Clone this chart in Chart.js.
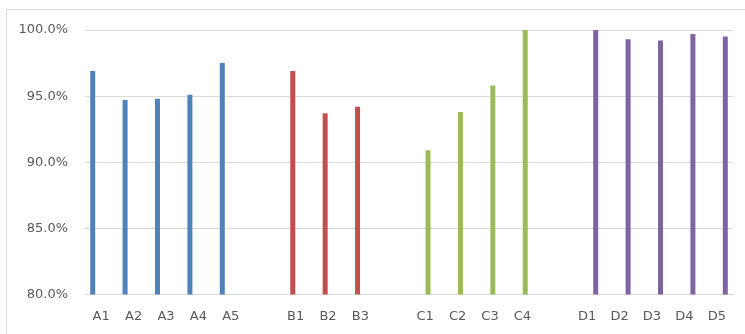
<!DOCTYPE html>
<html>
<head>
<meta charset="utf-8">
<script src="https://cdn.jsdelivr.net/npm/chart.js@4/dist/chart.umd.min.js"></script>
<style>
  html, body { margin: 0; padding: 0; background: #ffffff; overflow: hidden; }
  #wrap { width: 745px; height: 334px; position: relative; }
</style>
</head>
<body>
<div id="wrap"><canvas id="c" width="745" height="334"></canvas></div>
<script>
// Category labels per group; an empty slot separates the groups on the axis
const groupALabels = ['A1', 'A2', 'A3', 'A4', 'A5'];
const groupBLabels = ['B1', 'B2', 'B3'];
const groupCLabels = ['C1', 'C2', 'C3', 'C4'];
const groupDLabels = ['D1', 'D2', 'D3', 'D4', 'D5'];

// Values in percent
const groupA = [96.9, 94.7, 94.8, 95.1, 97.5];
const groupB = [96.9, 93.7, 94.2];
const groupC = [90.9, 93.8, 95.8, 100.0];
const groupD = [100.0, 99.3, 99.2, 99.7, 99.5];

// Axis ticks
const yTicks = [80, 85, 90, 95, 100];

const groups = [
  { labels: groupALabels, values: groupA, color: '#4F81BD' },
  { labels: groupBLabels, values: groupB, color: '#C0504D' },
  { labels: groupCLabels, values: groupC, color: '#9BBB59' },
  { labels: groupDLabels, values: groupD, color: '#8064A2' }
];

// Build the shared category axis and one null-padded series per group
const categories = [];
const spans = [];
groups.forEach((g, i) => {
  if (i > 0) categories.push('');
  spans.push(categories.length);
  g.labels.forEach(l => categories.push(l));
});
const datasets = groups.map((g, i) => {
  const data = categories.map(() => null);
  g.values.forEach((v, j) => { data[spans[i] + j] = v; });
  return {
    data,
    backgroundColor: g.color,
    borderWidth: 0,
    categoryPercentage: 0.70,
    barPercentage: 0.88
  };
});

// Light frame around the chart, open on the right and bottom
const frame = {
  id: 'frame',
  beforeDraw(chart) {
    const ctx = chart.ctx;
    ctx.save();
    ctx.strokeStyle = '#d9d9d9';
    ctx.lineWidth = 1;
    ctx.beginPath();
    ctx.moveTo(6.5, 334);
    ctx.lineTo(6.5, 9.5);
    ctx.lineTo(745, 9.5);
    ctx.stroke();
    ctx.restore();
  }
};

const textColor = '#595959';
const gridColor = '#d9d9d9';

new Chart(document.getElementById('c'), {
  type: 'bar',
  data: { labels: categories, datasets },
  plugins: [frame],
  options: {
    responsive: false,
    animation: false,
    layout: { padding: { left: 0, right: 12, top: 30, bottom: 0 } },
    plugins: { legend: { display: false }, tooltip: { enabled: false } },
    scales: {
      x: {
        grid: { display: false, drawTicks: false },
        border: { display: true, color: gridColor, width: 1 },
        ticks: {
          color: textColor,
          font: { family: 'DejaVu Sans', size: 13 },
          padding: 14,
          maxRotation: 0,
          autoSkip: false
        },
        afterFit(scale) { scale.height = 39.5; }
      },
      y: {
        min: 80,
        max: 100,
        afterBuildTicks(scale) { scale.ticks = yTicks.map(v => ({ value: v })); },
        grid: { color: gridColor, lineWidth: 1, drawTicks: false },
        border: { display: false },
        ticks: {
          color: textColor,
          font: { family: 'DejaVu Sans', size: 13 },
          padding: 17,
          callback: v => v.toFixed(1) + '%'
        },
        afterFit(scale) { scale.width = 85; }
      }
    }
  }
});
</script>
</body>
</html>
